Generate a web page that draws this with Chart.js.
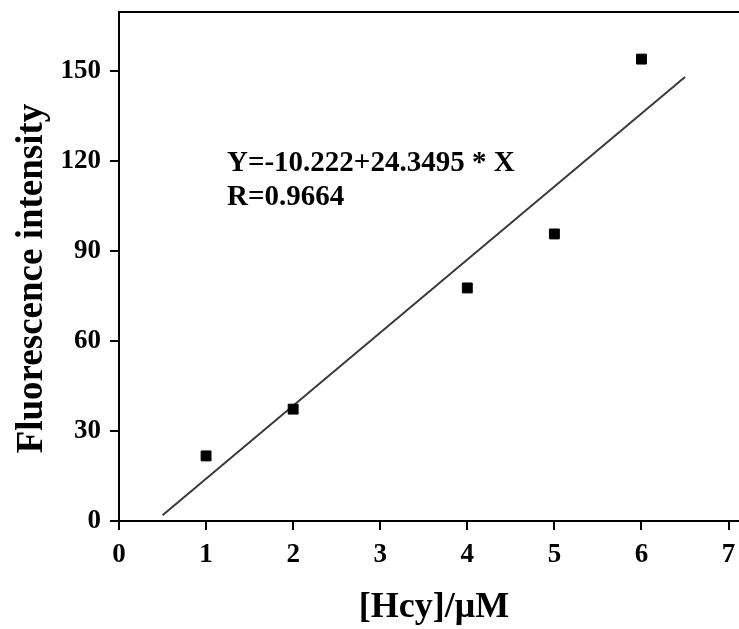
<!DOCTYPE html>
<html>
<head>
<meta charset="utf-8">
<script src="https://cdn.jsdelivr.net/npm/chart.js@4.4.0/dist/chart.umd.min.js"></script>
<style>
  html, body { margin: 0; padding: 0; background: #fff; overflow: hidden; }
</style>
</head>
<body>
<canvas id="chart" width="739" height="629"></canvas>
<script>
// measured points
const concX = [1, 2, 4, 5, 6];
const intensityY = [21.7, 37.3, 77.7, 95.7, 154];

// ends of the fitted line
const fitX = [0.5, 6.5];
const fitY = [1.9, 148.0];

const xTicks = [0, 1, 2, 3, 4, 5, 6, 7];
const yTicks = [0, 30, 60, 90, 120, 150];

const equationLines = ['Y=-10.222+24.3495 * X', 'R=0.9664'];
const xTitle = '[Hcy]/μM';
const yTitle = 'Fluorescence intensity';

const serif = "'Liberation Serif', 'Times New Roman', serif";

// top frame line, axis titles and the equation text
const framePlugin = {
  id: 'frame',
  afterDraw(chart) {
    const { ctx, chartArea, scales } = chart;
    ctx.save();
    ctx.strokeStyle = '#000';
    ctx.lineWidth = 2;
    ctx.beginPath();
    ctx.moveTo(chartArea.left - 1, chartArea.top);
    ctx.lineTo(chartArea.right, chartArea.top);
    ctx.stroke();

    ctx.fillStyle = '#000';

    // equation
    ctx.font = 'bold 29px ' + serif;
    ctx.textAlign = 'left';
    ctx.textBaseline = 'alphabetic';
    const tx = scales.x.getPixelForValue(1.24);
    const ty = scales.y.getPixelForValue(116.6);
    equationLines.forEach((line, i) => {
      ctx.fillText(line, tx, ty + i * 34);
    });

    // x title
    ctx.font = 'bold 36px ' + serif;
    ctx.textAlign = 'center';
    ctx.fillText(xTitle, (chartArea.left + chartArea.right) / 2 + 5, chartArea.bottom + 96);

    // y title
    ctx.save();
    ctx.font = 'bold 37px ' + serif;
    ctx.translate(chartArea.left - 77, (chartArea.top + chartArea.bottom) / 2 + 12);
    ctx.rotate(-Math.PI / 2);
    ctx.fillText(yTitle, 0, 0);
    ctx.restore();

    ctx.restore();
  }
};

new Chart(document.getElementById('chart'), {
  type: 'scatter',
  data: {
    datasets: [
      {
        label: 'data',
        data: concX.map((x, i) => ({ x: x, y: intensityY[i] })),
        pointStyle: 'rect',
        pointRadius: 7,
        backgroundColor: '#000',
        borderColor: '#000',
        borderWidth: 1
      },
      {
        label: 'fit',
        type: 'line',
        data: fitX.map((x, i) => ({ x: x, y: fitY[i] })),
        borderColor: '#3a3a3a',
        borderWidth: 2,
        pointRadius: 0,
        fill: false
      }
    ]
  },
  options: {
    responsive: false,
    animation: false,
    layout: { autoPadding: false, padding: { top: 12, left: 0, right: 0, bottom: 0 } },
    plugins: {
      legend: { display: false },
      tooltip: { enabled: false }
    },
    scales: {
      x: {
        type: 'linear',
        min: 0,
        max: 7.12,
        afterFit: (scale) => {
          scale.height = 108;
          scale.paddingLeft = 0;
          scale.paddingRight = 0;
        },
        afterBuildTicks: (scale) => { scale.ticks = xTicks.map(v => ({ value: v })); },
        border: { display: true, color: '#000', width: 2 },
        grid: { display: true, drawOnChartArea: false, drawTicks: true, tickLength: 9, color: '#000', lineWidth: 2 },
        ticks: {
          color: '#000',
          padding: 9,
          font: { family: serif, size: 27, weight: 'bold' }
        }
      },
      y: {
        min: 0,
        max: 169.7,
        afterFit: (scale) => {
          scale.width = 119;
          scale.paddingTop = 0;
          scale.paddingBottom = 0;
        },
        afterBuildTicks: (scale) => { scale.ticks = yTicks.map(v => ({ value: v })); },
        border: { display: true, color: '#000', width: 2 },
        grid: { display: true, drawOnChartArea: false, drawTicks: true, tickLength: 9, color: '#000', lineWidth: 2 },
        ticks: {
          color: '#000',
          padding: 9,
          font: { family: serif, size: 27, weight: 'bold' }
        }
      }
    }
  },
  plugins: [framePlugin]
});
</script>
</body>
</html>
